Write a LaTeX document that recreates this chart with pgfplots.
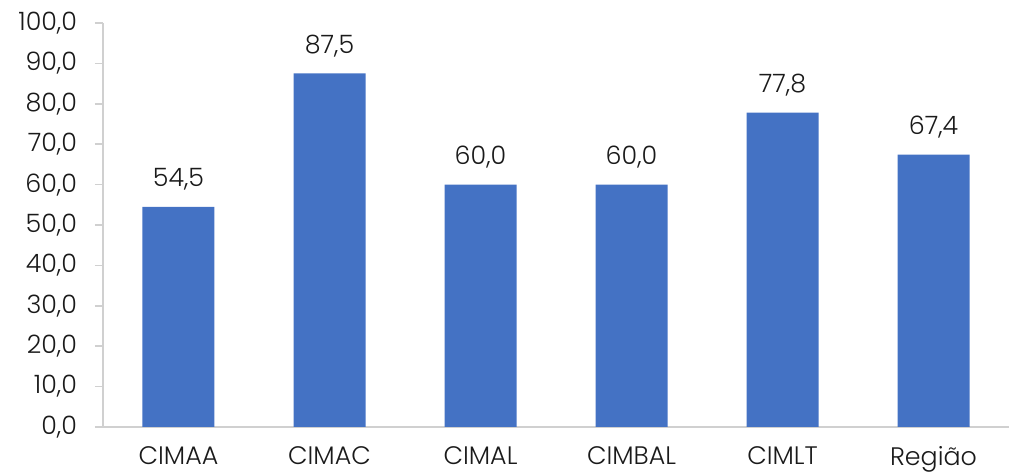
\documentclass[border=0pt]{standalone}
\usepackage{fontspec}
\setmainfont{Poppins}[UprightFont=* Light]
\usepackage{pgfplots}
\pgfplotsset{compat=1.18}
\definecolor{barblue}{HTML}{4472C4}
\definecolor{axisgrey}{HTML}{D0D0D0}
\definecolor{txt}{HTML}{1A1A1A}
\begin{document}
\fontsize{19}{22}\selectfont
\begin{tikzpicture}[x=0.75pt,y=0.75pt]
\begin{axis}[
  scale only axis,
  width=679.5pt, height=303pt,
  xmin=-0.5, xmax=5.5,
  ymin=0, ymax=100,
  ytick={0,10,...,100},
  xtick={0,1,2,3,4,5},
  xticklabels={CIMAA,CIMAC,CIMAL,CIMBAL,CIMLT,Região},
  axis x line*=bottom,
  axis y line*=left,
  axis line style={axisgrey, line width=1.2pt},
  x axis line style={-},
  y axis line style={-},
  major tick length=6pt,
  xtick style={draw=none},
  ytick style={axisgrey, line width=1.2pt},
  tick align=outside,
  tick label style={font=\fontsize{19}{22}\selectfont, text=txt},
  /pgf/number format/assume math mode=true,
  yticklabel={\pgfmathprintnumber[fixed,fixed zerofill,precision=1,use comma]{\tick}},
  yticklabel style={xshift=-7pt},
  xticklabel style={inner sep=0pt, yshift=-8.5pt},
  ybar, bar width=54pt,
  nodes near coords,
  nodes near coords style={font=\fontsize{19}{22}\selectfont, text=txt, yshift=6pt,
    /pgf/number format/.cd, fixed, fixed zerofill, precision=1, use comma, assume math mode=true},
  clip=false,
]
\addplot[fill=barblue, draw=none] coordinates {
  (0,54.5) (1,87.5) (2,60.0) (3,60.0) (4,77.8) (5,67.4)
};
\end{axis}
\pgfresetboundingbox
\useasboundingbox (current axis.south west) ++(-103,-46) rectangle ++(1009,473);
\end{tikzpicture}
\end{document}
